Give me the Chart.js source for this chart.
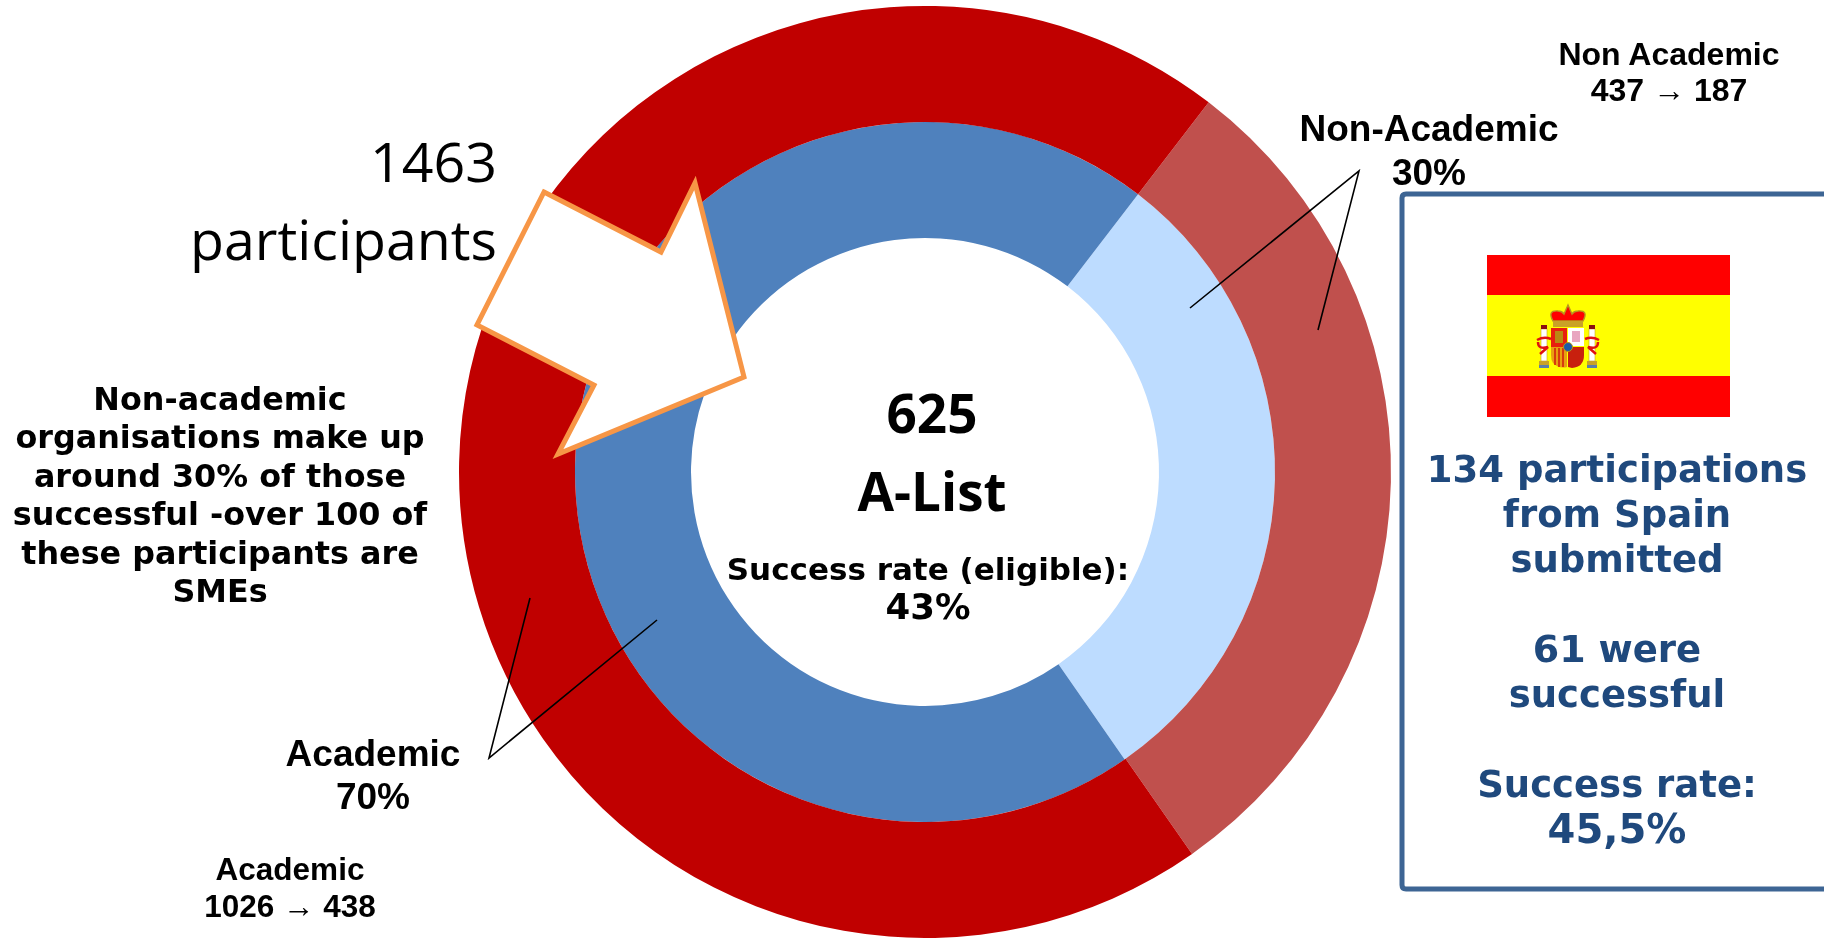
<!DOCTYPE html>
<html>
<head>
<meta charset="utf-8">
<title>A-List participants</title>
<script src="https://cdn.jsdelivr.net/npm/chart.js@4"></script>
<style>
html, body { margin: 0; padding: 0; background: #fff; overflow: hidden; }
#wrap { position: relative; width: 1824px; height: 938px; overflow: hidden; }
#myChart { position: absolute; left: 0; top: 0; }
#shapes { position: absolute; left: 0; top: 0; }
.t { position: absolute; text-align: center; white-space: nowrap; color: #000; }
.arial { font-family: "Liberation Sans", Arial, sans-serif; font-weight: bold; }
.verdana { font-family: "DejaVu Sans", Verdana, sans-serif; font-weight: bold; }
.calibri { font-family: "Open Sans", sans-serif; }
.blue { color: #1F497D; }
</style>
</head>
<body>
<div id="wrap">
    <canvas id="myChart" width="1824" height="938"></canvas>

    <svg id="shapes" width="1824" height="938" xmlns="http://www.w3.org/2000/svg">
        <g stroke="#000" stroke-width="1.6" fill="none">
            <polyline points="1190,308 1359,171 1318,330"/>
            <polyline points="530,598 489,758 657,620"/>
        </g>
        <polygon points="544,192 661,252 695,183 744,377 558,454 594,385 477,325" fill="#fff" stroke="#F79646" stroke-width="5" stroke-linejoin="miter"/>

        <path d="M1840,194 H1406 Q1402,194 1402,198 V885 Q1402,889 1406,889 H1840" fill="none" stroke="#3D6594" stroke-width="5"/>

        <!-- flag -->
        <rect x="1487" y="255" width="243" height="162" fill="#FF0000"/>
        <rect x="1487" y="295" width="243" height="81" fill="#FFFF00"/>
        <g>
            <path d="M1553,321 Q1547,310 1558,311 Q1562,311 1564,314 L1568,305 L1572,314 Q1574,311 1578,311 Q1589,310 1583,321 Z" fill="#FF0000" stroke="#B8951E" stroke-width="1.4"/>
            <rect x="1553" y="321" width="30" height="6" fill="#C9A227"/>
            <rect x="1551" y="328" width="16" height="20" fill="#E8200E"/>
            <rect x="1568" y="328" width="16" height="18" fill="#fff"/>
            <rect x="1572" y="331" width="8" height="11" fill="#E9A6C0"/>
            <rect x="1555" y="331" width="8" height="12" fill="#B98A12"/>
            <path d="M1551,347 H1567 V367 Q1559,369 1553,363 Q1551,360 1551,355 Z" fill="#E8A010"/>
            <g stroke="#D21A0C" stroke-width="1.5">
                <line x1="1555" y1="348" x2="1555" y2="365"/>
                <line x1="1559" y1="348" x2="1559" y2="367"/>
                <line x1="1563" y1="348" x2="1563" y2="367"/>
            </g>
            <path d="M1568,347 H1584 V355 Q1584,367 1572,368 L1568,367 Z" fill="#C8200E"/>
            <circle cx="1568" cy="347" r="4.5" fill="#1E5AA8" stroke="#B8951E" stroke-width="1"/>
            <rect x="1541" y="329" width="6" height="32" fill="#fff" stroke="#C9A227" stroke-width="0.6"/>
            <rect x="1589" y="329" width="6" height="32" fill="#fff" stroke="#C9A227" stroke-width="0.6"/>
            <rect x="1539" y="361" width="10" height="7" fill="#C9A227"/>
            <rect x="1587" y="361" width="10" height="7" fill="#C9A227"/>
            <rect x="1539" y="365" width="10" height="3" fill="#5B7FA8"/>
            <rect x="1587" y="365" width="10" height="3" fill="#5B7FA8"/>
            <rect x="1541" y="325" width="6" height="4" fill="#8A1010"/>
            <rect x="1589" y="325" width="6" height="4" fill="#8A1010"/>
            <path d="M1537,340 Q1544,336 1551,339 M1538,342 Q1538,350 1548,347 L1540,354" fill="none" stroke="#E01010" stroke-width="2.5"/>
            <path d="M1599,340 Q1592,336 1585,339 M1598,342 Q1598,350 1588,347 L1596,354" fill="none" stroke="#E01010" stroke-width="2.5"/>
        </g>
    </svg>

    <div class="t calibri" style="left:150px; top:122px; width:347px; text-align:right; font-size:55.5px; line-height:78px;">1463<br>participants</div>

    <div class="t arial" style="left:1519px; top:36px; width:300px; font-size:32px; line-height:36px;">Non Academic<br>437 → 187</div>
    <div class="t arial" style="left:1279px; top:107px; width:300px; font-size:37px; line-height:44px;">Non-Academic<br>30%</div>
    <div class="t arial" style="left:223px; top:732px; width:300px; font-size:37px; line-height:43px;">Academic<br>70%</div>
    <div class="t arial" style="left:140px; top:851px; width:300px; font-size:31.5px; line-height:37px;">Academic<br>1026 → 438</div>

    <div class="t verdana" style="left:0; top:380px; width:440px; font-size:31.8px; line-height:38.4px;">Non-academic<br>organisations make up<br>around 30% of those<br>successful -over 100 of<br>these participants are<br>SMEs</div>

    <div class="t calibri" style="left:782px; top:374px; width:300px; font-size:53px; line-height:78px; font-weight:700;">625<br>A-List</div>
    <div class="t verdana" style="left:678px; top:551px; width:500px; font-size:31px; line-height:37px;">Success rate (eligible):<br><span style="font-size:35.5px;">43%</span></div>

    <div class="t verdana blue" style="left:1407px; top:448px; width:420px; font-size:37px; line-height:44.8px;">134 participations<br>from Spain<br>submitted<br><br><span style="font-size:38px;">61</span> were<br>successful<br><br>Success rate:<br><span style="font-size:40px;">45,5%</span></div>
</div>

<script>
const categories = ["Non-Academic", "Academic"];
const submitted = [437, 1026];
const successful = [187, 438];

new Chart(document.getElementById("myChart"), {
    type: "doughnut",
    data: {
        labels: categories,
        datasets: [
            { data: submitted, backgroundColor: ["#C0504D", "#C00000"], borderWidth: 0 },
            { data: successful, backgroundColor: ["#BDDCFF", "#4F81BD"], borderWidth: 0 }
        ]
    },
    options: {
        responsive: false,
        animation: false,
        cutout: 234,
        rotation: 37.5,
        layout: { padding: { left: 26, top: 6 } },
        plugins: {
            legend: { display: false },
            tooltip: { enabled: false },
            title: { display: false }
        }
    }
});
</script>
</body>
</html>
